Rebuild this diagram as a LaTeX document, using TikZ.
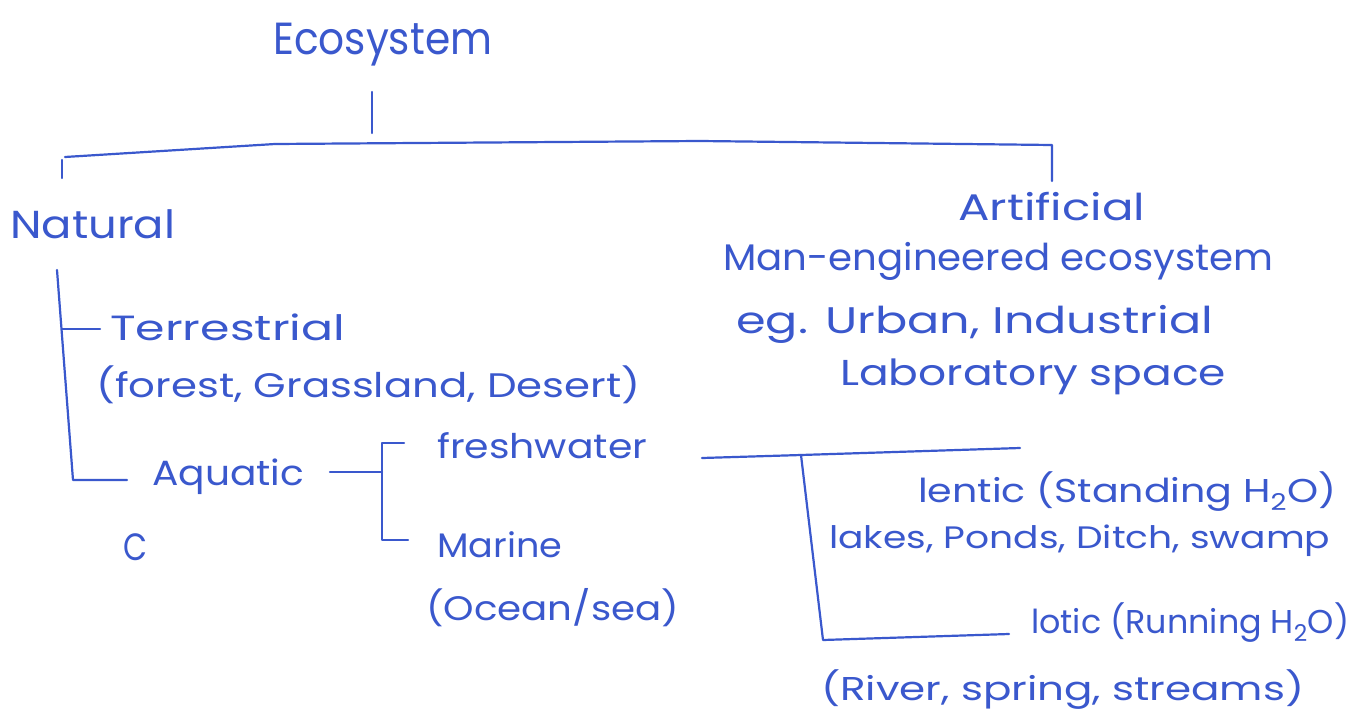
\documentclass[tikz,border=0pt]{standalone}
\usepackage{fontspec}
\usepackage{graphicx}
\setmainfont{Poppins}
\definecolor{ink}{RGB}{58,88,205}
% handwritten-style label: fixed size, stretched to an exact width (in pt)
\newcommand{\handw}[3][35]{\resizebox{#2pt}{\height}{\fontsize{#1}{#1}\selectfont #3}}
\begin{document}
\begin{tikzpicture}[x=1pt,y=-1pt,
  hw/.style={inner sep=0pt,anchor=base west,text=ink},
  pen/.style={draw=ink,line width=2.2pt,line cap=round,line join=round}]
\fill[white] (0,0) rectangle (1359,717);
\useasboundingbox (0,0) rectangle (1359,717);

% ---- labels ----
\node[hw] (eco)   at (273,54)  {\handw[45]{219}{Ecosystem}};
\node[hw] (nat)   at (10,238)  {\handw[39]{165}{Natural}};
\node[hw] (art)   at (958,220) {\handw[37]{187}{Artificial}};
\node[hw] (man)   at (723,270) {\handw[37]{550}{Man-engineered ecosystem}};
\node[hw] (eg)    at (736,333) {\handw[37]{477}{eg. Urban, Industrial}};
\node[hw] (lab)   at (840,385) {\handw[36]{386}{Laboratory space}};
\node[hw] (ter)   at (110,340) {\handw[35]{235}{Terrestrial}};
\node[hw] (terx)  at (96,397)  {\handw[34]{544}{(forest, Grassland, Desert)}};
\node[hw] (aqu)   at (152,485) {\handw[35]{152}{Aquatic}};
\node[hw] (aqc)   at (123,560) {\handw[38]{24}{C}};
\node[hw] (fre)   at (437,458) {\handw[34]{210}{freshwater}};
\node[hw] (mar)   at (437,557) {\handw[34]{125}{Marine}};
\node[hw] (marx)  at (426,620) {\handw[34]{253}{(Ocean/sea)}};
\node[hw] (len)   at (918,502) {\handw[33]{418}{lentic (Standing H\textsubscript{2}O)}};
\node[hw] (lenx)  at (829,548) {\handw[31]{501}{lakes, Ponds, Ditch, swamp}};
\node[hw] (lot)   at (1031,633){\handw[33]{318}{lotic (Running H\textsubscript{2}O)}};
\node[hw] (lotx)  at (821,700) {\handw[33]{483}{(River, spring, streams)}};

% ---- joints of the tree lines ----
\coordinate (ecoT)  at (372,92);
\coordinate (ecoB)  at (372,133);
\coordinate (barL)  at (65,157);
\coordinate (barK)  at (275,144);
\coordinate (barM)  at (700,141);
\coordinate (barR)  at (1052,145);
\coordinate (natT)  at (62,160);
\coordinate (natB)  at (62,178);
\coordinate (artB)  at (1052,181);
\coordinate (stemT) at (57,270);
\coordinate (stemB) at (73,480);
\coordinate (terL)  at (62,329);
\coordinate (terR)  at (100,329);
\coordinate (aquR)  at (127,480);
\coordinate (aqL)   at (330,472);
\coordinate (aqM)   at (382,472);
\coordinate (brT)   at (382,443);
\coordinate (brTR)  at (404,443);
\coordinate (brB)   at (382,540);
\coordinate (brBR)  at (408,540);
\coordinate (fwL)   at (702,458);
\coordinate (fwK)   at (801,455);
\coordinate (fwR)   at (1020,448);
\coordinate (ltB)   at (823,640);
\coordinate (ltR)   at (1009,634);

% ---- tree lines ----
\draw[pen] (ecoT) -- (ecoB);
\draw[pen] (barL) -- (barK) -- (barM) -- (barR) -- (artB);
\draw[pen] (natT) -- (natB);
\draw[pen] (stemT) -- (stemB) -- (aquR);
\draw[pen] (terL) -- (terR);
\draw[pen] (aqL) -- (aqM);
\draw[pen] (brTR) -- (brT) -- (brB) -- (brBR);
\draw[pen] (fwL) -- (fwK) -- (fwR);
\draw[pen] (fwK) -- (ltB) -- (ltR);
\end{tikzpicture}
\end{document}
